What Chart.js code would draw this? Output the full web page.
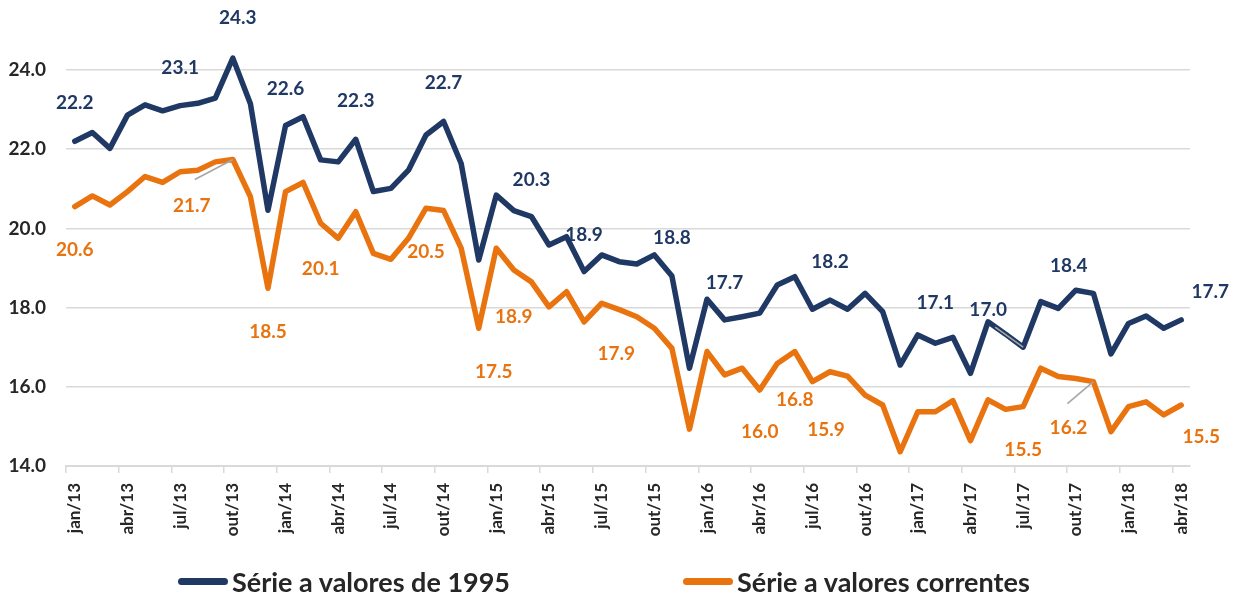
<!DOCTYPE html>
<html lang="pt">
<head>
<meta charset="utf-8">
<script src="https://cdn.jsdelivr.net/npm/chart.js@4.4.1/dist/chart.umd.min.js"></script>
<style>
  html, body { margin: 0; background: #fff; }
  #wrap { position: relative; width: 1237px; height: 601px; }
  .legend-item { position: absolute; top: 565px; display: flex; align-items: center;
    font: bold 27px Lato, "Liberation Sans", sans-serif; color: #262626; white-space: nowrap; }
  .legend-item i { display: inline-block; width: 50px; height: 7px; border-radius: 4px; margin-right: 4px; }
</style>
</head>
<body>
<div id="wrap">
  <canvas id="chart" width="1237" height="601"></canvas>
</div>
<script>
// categories: jan/13 .. abr/18
const monthNames = ['jan', 'fev', 'mar', 'abr', 'mai', 'jun', 'jul', 'ago', 'set', 'out', 'nov', 'dez'];
const years = ['13', '14', '15', '16', '17', '18'];
const months = [];
years.forEach((y) => monthNames.forEach((m) => months.push(m + '/' + y)));
months.length = 64;

const seriesNames = ['Série a valores de 1995', 'Série a valores correntes'];

const real1995 = [
  22.2, 22.42, 22.02, 22.86, 23.12, 22.97, 23.1, 23.16, 23.29, 24.3, 23.15, 20.46,
  22.6, 22.82, 21.73, 21.68, 22.25, 20.93, 21.01, 21.47, 22.36, 22.7, 21.64, 19.2,
  20.84, 20.45, 20.3, 19.58, 19.79, 18.91, 19.33, 19.16, 19.1, 19.33, 18.8, 16.47,
  18.21, 17.69, 17.77, 17.86, 18.57, 18.78, 17.96, 18.19, 17.96, 18.36, 17.9, 16.55,
  17.31, 17.1, 17.25, 16.34, 17.64, 17.33, 17.0, 18.15, 17.98, 18.44, 18.36, 16.83,
  17.6, 17.79, 17.48, 17.69
];

const current = [
  20.55, 20.82, 20.59, 20.93, 21.31, 21.16, 21.43, 21.47, 21.68, 21.74, 20.8, 18.49,
  20.93, 21.16, 20.13, 19.75, 20.42, 19.37, 19.22, 19.75, 20.51, 20.45, 19.5, 17.48,
  19.5, 18.95, 18.65, 18.02, 18.4, 17.64, 18.11, 17.95, 17.77, 17.48, 16.97, 14.93,
  16.89, 16.3, 16.47, 15.92, 16.59, 16.89, 16.13, 16.38, 16.27, 15.79, 15.54, 14.36,
  15.37, 15.37, 15.65, 14.64, 15.67, 15.43, 15.5, 16.47, 16.26, 16.21, 16.13, 14.87,
  15.5, 15.62, 15.29, 15.54
];

const yTicks = [14, 16, 18, 20, 22, 24];

// labelled points (index into months) and their printed text
const realLabelIdx = [0, 6, 9, 12, 16, 21, 26, 29, 34, 37, 43, 49, 54, 57, 63];
const realLabelText = ['22.2', '23.1', '24.3', '22.6', '22.3', '22.7', '20.3', '18.9', '18.8', '17.7', '18.2', '17.1', '17.0', '18.4', '17.7'];
const currLabelIdx = [0, 9, 11, 14, 20, 23, 25, 31, 39, 41, 43, 54, 58, 63];
const currLabelText = ['20.6', '21.7', '18.5', '20.1', '20.5', '17.5', '18.9', '17.9', '16.0', '16.8', '15.9', '15.5', '16.2', '15.5'];

// label placement relative to the point (px)
const realLabelPos = [[0, -38], [0, -38], [5, -40], [0, -37], [0, -38], [0, -39], [0, -37], [0, -37],
  [0, -38], [0, -37], [0, -38], [0, -40], [-35, -37], [-7, -24], [29, -28]];
const currLabelPos = [[0, 43], [-41, 46], [0, 44], [0, 46], [0, 44], [15, 44], [0, 47], [-3, 44],
  [0, 42], [0, 48], [-4, 58], [0, 43], [-25, 46], [20, 32]];
// leader line start, relative to label centre, keyed by label number
const realLeaders = {12: [7, 17]};
const currLeaders = {1: [3, -26], 12: [-1, -24]};

const NAVY = '#1f3864';
const ORANGE = '#e8730f';
const GRID = '#d9d9d9';
const FONT = 'Lato, "Liberation Sans", sans-serif';

Chart.defaults.font.family = FONT;

const labelSets = [
  {idx: realLabelIdx, text: realLabelText, pos: realLabelPos, leaders: realLeaders, color: NAVY},
  {idx: currLabelIdx, text: currLabelText, pos: currLabelPos, leaders: currLeaders, color: ORANGE}
];

// draws the value labels (and the few grey leader lines)
const valueLabels = {
  id: 'valueLabels',
  afterDatasetsDraw(chart) {
    const {ctx} = chart;
    labelSets.forEach((set, di) => {
      const meta = chart.getDatasetMeta(di);
      set.idx.forEach((idx, k) => {
        const pt = meta.data[idx];
        const lx = pt.x + set.pos[k][0];
        const ly = pt.y + set.pos[k][1];
        ctx.save();
        const lead = set.leaders[k];
        if (lead) {
          ctx.strokeStyle = '#a6a6a6';
          ctx.lineWidth = 1.6;
          ctx.beginPath();
          ctx.moveTo(lx + lead[0], ly + lead[1]);
          ctx.lineTo(pt.x, pt.y);
          ctx.stroke();
        }
        ctx.fillStyle = set.color;
        ctx.font = 'bold 19px ' + FONT;
        ctx.textAlign = 'center';
        ctx.textBaseline = 'middle';
        ctx.fillText(set.text[k], lx, ly);
        ctx.restore();
      });
    });
  }
};

const ctx = document.getElementById('chart').getContext('2d');
new Chart(ctx, {
  type: 'line',
  data: {
    labels: months,
    datasets: [
      {label: seriesNames[0], data: real1995, borderColor: NAVY, backgroundColor: NAVY},
      {label: seriesNames[1], data: current, borderColor: ORANGE, backgroundColor: ORANGE}
    ]
  },
  options: {
    responsive: false,
    animation: false,
    layout: {padding: {top: 70, right: 47, bottom: 0, left: 0}},
    elements: {
      line: {borderWidth: 5.5, tension: 0, borderJoinStyle: 'round', borderCapStyle: 'round'},
      point: {radius: 0, hoverRadius: 0}
    },
    datasets: {line: {clip: false}},
    plugins: {legend: {display: false}, tooltip: {enabled: false}},
    scales: {
      x: {
        offset: true,
        afterFit(scale) { scale.height = 135; },
        grid: {
          offset: true,
          drawOnChartArea: false,
          tickLength: 7,
          lineWidth: 1.5,
          color: (c) => (c.index % 3 === 0 && c.index < months.length ? GRID : 'rgba(0,0,0,0)')
        },
        border: {display: true, color: GRID, width: 2},
        ticks: {
          autoSkip: false,
          minRotation: 90,
          maxRotation: 90,
          padding: 10,
          color: '#262626',
          font: {size: 17, weight: 'bold'},
          callback: function(v, i) { return i % 3 === 0 ? this.getLabelForValue(v) : ''; }
        }
      },
      y: {
        min: yTicks[0],
        max: yTicks[yTicks.length - 1],
        afterFit(scale) { scale.width = 66; },
        afterBuildTicks(scale) { scale.ticks = yTicks.map((v) => ({value: v})); },
        grid: {color: GRID, lineWidth: 1.5, drawTicks: false},
        border: {display: false},
        ticks: {
          padding: 20,
          color: '#262626',
          font: {size: 19, weight: 'bold'},
          callback: (v) => v.toFixed(1)
        }
      }
    }
  },
  plugins: [valueLabels]
});

// legend below the axis labels
const legendX = [178, 683];
const wrap = document.getElementById('wrap');
[NAVY, ORANGE].forEach((col, i) => {
  const item = document.createElement('div');
  item.className = 'legend-item';
  item.style.left = legendX[i] + 'px';
  item.innerHTML = '<i style="background:' + col + '"></i>' + seriesNames[i];
  wrap.appendChild(item);
});
</script>
</body>
</html>
